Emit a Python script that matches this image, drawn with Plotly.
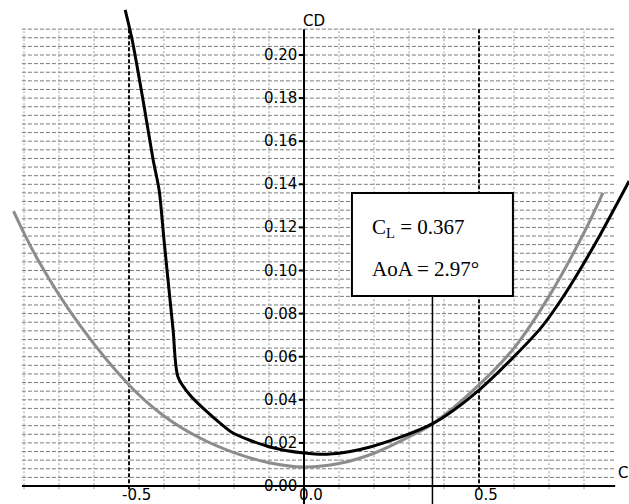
import plotly.graph_objects as go

# ---- data ----
cl_gray = [-0.83, -0.76, -0.64, -0.50, -0.40, -0.30, -0.20, -0.10, 0.00, 0.10, 0.20, 0.30, 0.367, 0.50, 0.60, 0.70, 0.80, 0.854]
cd_gray = [0.1276, 0.1049, 0.0745, 0.0469, 0.0325, 0.0225, 0.0155, 0.0108, 0.0088, 0.0104, 0.0152, 0.0228, 0.0288, 0.0469, 0.0640, 0.0880, 0.1175, 0.1360]

cl_black = [-0.511, -0.491, -0.460, -0.431, -0.414, -0.400, -0.374, -0.360, -0.326, -0.283, -0.240, -0.203, -0.097, 0.000, 0.074, 0.189, 0.366, 0.500, 0.674, 0.731, 0.789, 0.846, 0.929]
cd_black = [0.2209, 0.2070, 0.1791, 0.1513, 0.1374, 0.1142, 0.0724, 0.0506, 0.0422, 0.0353, 0.0292, 0.0246, 0.0181, 0.0153, 0.0148, 0.0181, 0.0288, 0.0445, 0.0728, 0.0855, 0.1005, 0.1165, 0.1415]

y_tick_vals = [0.00, 0.02, 0.04, 0.06, 0.08, 0.10, 0.12, 0.14, 0.16, 0.18, 0.20]
y_tick_text = ["0.00", "0.02", "0.04", "0.06", "0.08", "0.10", "0.12", "0.14", "0.16", "0.18", "0.20"]
x_tick_vals = [-0.5, 0.0, 0.5]
x_tick_text = ["-0.5", "0.0", "0.5"]

x_grid = [-0.8, -0.7, -0.6, -0.5, -0.4, -0.3, -0.2, -0.1, 0.1, 0.2, 0.3, 0.4, 0.5, 0.6, 0.7, 0.8]
x_grid_major = [-0.5, 0.5]
y_grid_step = 0.004
y_grid_count = 53

cl_current = 0.367
aoa_current = 2.97

# ---- frame: figure covers the whole 629x504 page ----
X_RANGE = [-0.8686, 0.9286]
Y_RANGE = [-0.00835, 0.22552]
GRID_X0, GRID_X1 = -0.806, 0.889
GRID_Y1 = 0.212

fig = go.Figure()

shapes = []
for i in range(1, y_grid_count + 1):
    yv = i * y_grid_step
    shapes.append(dict(type="line", x0=GRID_X0, x1=GRID_X1, y0=yv, y1=yv,
                       line=dict(color="#7a7a7a", width=1, dash="4px,2px"), layer="below"))
for xv in x_grid:
    major = xv in x_grid_major
    shapes.append(dict(type="line", x0=xv, x1=xv, y0=-0.0015, y1=GRID_Y1,
                       line=dict(color="#111111" if major else "#9a9a9a",
                                 width=2 if major else 1,
                                 dash="4px,2px" if major else "2px,2px"),
                       layer="below"))
shapes.append(dict(type="line", x0=GRID_X0, x1=GRID_X1, y0=0, y1=0,
                   line=dict(color="black", width=2), layer="above"))
shapes.append(dict(type="line", x0=0, x1=0, y0=Y_RANGE[0], y1=GRID_Y1,
                   line=dict(color="black", width=2), layer="above"))
for yv in y_tick_vals[1:]:
    shapes.append(dict(type="line", x0=-0.0143, x1=0, y0=yv, y1=yv,
                       line=dict(color="black", width=2), layer="above"))
shapes.append(dict(type="line", x0=cl_current, x1=cl_current, y0=Y_RANGE[0], y1=0.0882,
                   line=dict(color="black", width=1.5), layer="above"))
shapes.append(dict(type="rect", x0=0.137, x1=0.597, y0=0.0882, y1=0.136,
                   line=dict(color="black", width=2), fillcolor="white", layer="above"))

fig.add_trace(go.Scatter(x=cl_gray, y=cd_gray, mode="lines",
                         line=dict(color="#8c8c8c", width=3, shape="spline", smoothing=1.0),
                         hoverinfo="skip", showlegend=False))
fig.add_trace(go.Scatter(x=cl_black, y=cd_black, mode="lines",
                         line=dict(color="black", width=3, shape="spline", smoothing=0.8),
                         hoverinfo="skip", showlegend=False))

tick_font = dict(family="DejaVu Sans", size=15, color="black")
ann = []
for v, t in zip(y_tick_vals, y_tick_text):
    ann.append(dict(x=0, y=v, text=t, showarrow=False, xanchor="right", yanchor="middle",
                    xshift=-5, font=tick_font))
for v, t in zip(x_tick_vals, x_tick_text):
    ann.append(dict(x=v, y=0, text=t, showarrow=False, xanchor="center", yanchor="top",
                    xshift=7, yshift=2, font=tick_font))
ann.append(dict(x=0, y=0.2158, text="CD", showarrow=False, xanchor="left", yanchor="middle",
                xshift=-3, font=tick_font))
ann.append(dict(x=0.891, y=0.006, text="C", showarrow=False, xanchor="left", yanchor="middle",
                font=tick_font))
serif = dict(family="Liberation Serif", size=21, color="black")
ann.append(dict(x=0.188, y=(486 - 228) / 2155, text="C<sub>L</sub> = %.3f" % cl_current,
                showarrow=False, xanchor="left", yanchor="middle", font=serif))
ann.append(dict(x=0.188, y=(486 - 269) / 2155, text="AoA = %.2f°" % aoa_current,
                showarrow=False, xanchor="left", yanchor="middle", font=serif))

fig.update_layout(
    width=629, height=504, autosize=False,
    margin=dict(l=0, r=0, t=0, b=0),
    paper_bgcolor="white", plot_bgcolor="white",
    xaxis=dict(range=X_RANGE, visible=False, fixedrange=True),
    yaxis=dict(range=Y_RANGE, visible=False, fixedrange=True),
    shapes=shapes, annotations=ann,
)

fig.write_html("out.html", config={"displayModeBar": False},
               post_script="document.body.style.margin='0';document.body.style.overflow='hidden';")
